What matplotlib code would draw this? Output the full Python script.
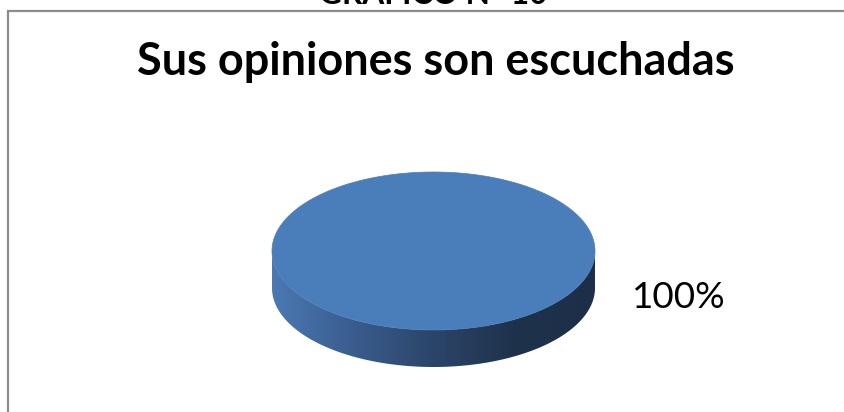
import numpy as np
import matplotlib
matplotlib.use("Agg")
import matplotlib.pyplot as plt
from matplotlib.patches import Polygon
from matplotlib.colors import LinearSegmentedColormap

# Survey data
categories = ["Sí"]
values = [100]
title = "Sus opiniones son escuchadas"
header = "GRÁFICO N° 10"

TOP_COLOR = "#4a7ebb"
SIDE_COLORS = ["#4b79b3", "#3a5c8e", "#2b4569", "#1f324c", "#1d2f48"]

W, H = 844, 412
fig = plt.figure(figsize=(W / 100, H / 100), dpi=100)
ax = fig.add_axes([0, 0, 1, 1])
ax.set_xlim(0, W)
ax.set_ylim(H, 0)
ax.axis("off")

# chart frame (left and top edges)
ax.plot([8, 8, W + 5], [H + 5, 10.5, 10.5], color="#8c8c8c", lw=1.6,
        solid_joinstyle="miter", zorder=1)

# heading above the frame
ax.text(433, 4, header, ha="center", va="baseline", fontsize=22.8,
        fontweight="bold", family="Lato", color="black")

# chart title
ax.text(436, 75, title, ha="center", va="baseline", fontsize=32.4,
        fontweight="bold", family="Lato", color="black")

# 3D pie geometry
cx, cy, rx, ry, depth = 433.5, 251, 161.5, 79, 37
total = float(sum(values))
side_cmap = LinearSegmentedColormap.from_list("side", SIDE_COLORS)

start = -np.pi / 2
for cat, val in zip(categories, values):
    span = 2 * np.pi * val / total
    t = np.linspace(start, start + span, 721)
    ex = cx + rx * np.cos(t)
    ey = cy + ry * np.sin(t)

    # front wall: visible where sin(t) > 0 (screen y grows downward)
    tf = np.linspace(0, np.pi, 400)
    mask = [(start <= a <= start + span) or (start <= a + 2 * np.pi <= start + span) for a in tf]
    tf = tf[np.array(mask)]
    if tf.size:
        fx = cx + rx * np.cos(tf)
        fy = cy + ry * np.sin(tf)
        side_xy = np.column_stack([np.r_[fx, fx[::-1]], np.r_[fy, fy[::-1] + depth]])
        side = Polygon(side_xy, closed=True, facecolor="none", edgecolor="none", zorder=2)
        ax.add_patch(side)
        grad = np.linspace(0, 1, 256).reshape(1, -1)
        im = ax.imshow(grad, cmap=side_cmap, aspect="auto",
                       extent=[cx - rx, cx + rx, cy + ry + depth, cy], zorder=2,
                       interpolation="bilinear")
        im.set_clip_path(side)

    # top face
    if val == total:
        top_xy = np.column_stack([ex, ey])
    else:
        top_xy = np.vstack([[cx, cy], np.column_stack([ex, ey])])
    ax.add_patch(Polygon(top_xy, closed=True, facecolor=TOP_COLOR,
                         edgecolor=TOP_COLOR, lw=0.5, zorder=3))

    # percentage label
    pct = f"{val / total * 100:.0f}%"
    ax.text(cx + rx + 37, cy + 57, pct, ha="left", va="baseline",
            fontsize=26.5, family="Lato", color="black", zorder=4)
    start += span

fig.savefig("out.png", dpi=100)
